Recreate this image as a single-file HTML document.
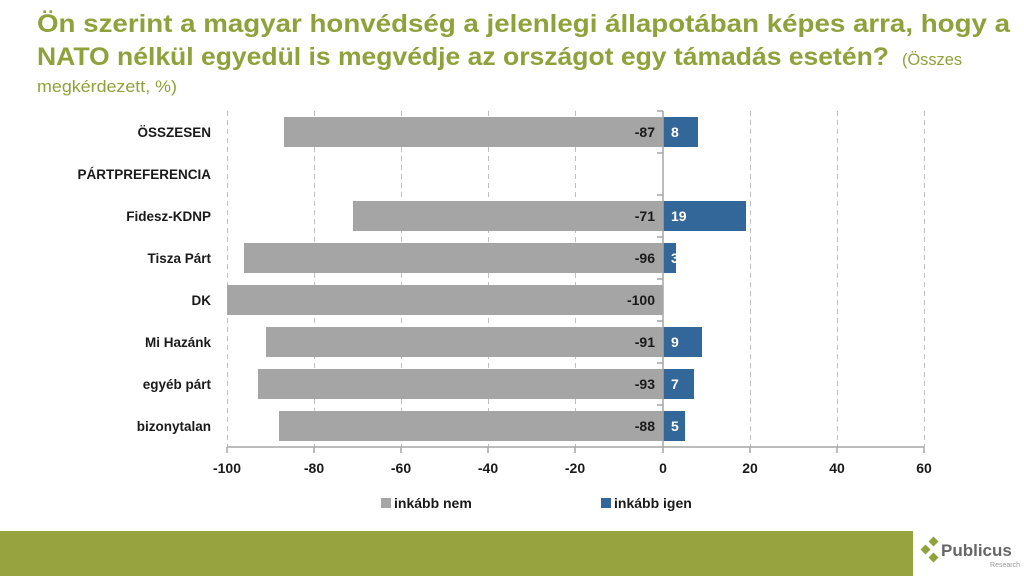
<!DOCTYPE html>
<html><head><meta charset="utf-8"><style>
html,body{margin:0;padding:0;background:#fff;width:1024px;height:576px;overflow:hidden}
svg{display:block;font-family:"Liberation Sans",Arial,sans-serif}
</style></head><body>
<svg width="1024" height="576" viewBox="0 0 1024 576">
<g font-weight="bold" fill="#8fa13a" font-size="25">
<text x="37" y="32" textLength="973" lengthAdjust="spacingAndGlyphs">Ön szerint a magyar honvédség a jelenlegi állapotában képes arra, hogy a</text>
<text x="37" y="65" textLength="852" lengthAdjust="spacingAndGlyphs">NATO nélkül egyedül is megvédje az országot egy támadás esetén?</text>
</g>
<text x="902" y="65" fill="#8fa13a" font-size="17" textLength="60" lengthAdjust="spacingAndGlyphs">(Összes</text>
<text x="37" y="92" fill="#8fa13a" font-size="17" textLength="140" lengthAdjust="spacingAndGlyphs">megkérdezett, %)</text>

<g stroke="#bfbfbf" stroke-dasharray="5,4" stroke-width="1">
<line x1="227.5" y1="111" x2="227.5" y2="447"/>
<line x1="314.5" y1="111" x2="314.5" y2="447"/>
<line x1="401.5" y1="111" x2="401.5" y2="447"/>
<line x1="488.5" y1="111" x2="488.5" y2="447"/>
<line x1="575.5" y1="111" x2="575.5" y2="447"/>
<line x1="750.5" y1="111" x2="750.5" y2="447"/>
<line x1="837.5" y1="111" x2="837.5" y2="447"/>
<line x1="924.5" y1="111" x2="924.5" y2="447"/>
</g>

<g fill="#a5a5a5">
<rect x="284" y="117" width="379" height="30"/>
<rect x="353" y="201" width="310" height="30"/>
<rect x="244" y="243" width="419" height="30"/>
<rect x="227" y="285" width="436" height="30"/>
<rect x="266" y="327" width="397" height="30"/>
<rect x="258" y="369" width="405" height="30"/>
<rect x="279" y="411" width="384" height="30"/>
</g>
<g fill="#336699">
<rect x="663" y="117" width="35" height="30"/>
<rect x="663" y="201" width="83" height="30"/>
<rect x="663" y="243" width="13" height="30"/>
<rect x="663" y="327" width="39" height="30"/>
<rect x="663" y="369" width="31" height="30"/>
<rect x="663" y="411" width="22" height="30"/>
</g>

<g stroke="#a6a6a6" stroke-width="1.5" fill="none">
<line x1="663" y1="111" x2="663" y2="447"/>
<line x1="227" y1="447" x2="924" y2="447"/>
<path d="M657 111H663M657 153H663M657 195H663M657 237H663M657 279H663M657 321H663M657 363H663M657 405H663"/>
<path d="M227 447V453M314 447V453M401 447V453M488 447V453M575 447V453M663 447V453M750 447V453M837 447V453M924 447V453"/>
</g>

<g font-weight="bold" font-size="14" fill="#1a1a1a" text-anchor="end">
<text x="655" y="137">-87</text>
<text x="655" y="221">-71</text>
<text x="655" y="263">-96</text>
<text x="655" y="305">-100</text>
<text x="655" y="347">-91</text>
<text x="655" y="389">-93</text>
<text x="655" y="431">-88</text>
</g>
<g font-weight="bold" font-size="14" fill="#fff">
<text x="671" y="137">8</text>
<text x="671" y="221">19</text>
<text x="671" y="263">3</text>
<text x="671" y="347">9</text>
<text x="671" y="389">7</text>
<text x="671" y="431">5</text>
</g>

<g font-weight="bold" font-size="13.5" fill="#1a1a1a" text-anchor="end">
<text x="211" y="137">ÖSSZESEN</text>
<text x="211" y="179">PÁRTPREFERENCIA</text>
<text x="211" y="221">Fidesz-KDNP</text>
<text x="211" y="263">Tisza Párt</text>
<text x="211" y="305">DK</text>
<text x="211" y="347">Mi Hazánk</text>
<text x="211" y="389">egyéb párt</text>
<text x="211" y="431">bizonytalan</text>
</g>

<g font-weight="bold" font-size="14" fill="#1a1a1a" text-anchor="middle">
<text x="227" y="473">-100</text>
<text x="314" y="473">-80</text>
<text x="401" y="473">-60</text>
<text x="488" y="473">-40</text>
<text x="575" y="473">-20</text>
<text x="663" y="473">0</text>
<text x="750" y="473">20</text>
<text x="837" y="473">40</text>
<text x="924" y="473">60</text>
</g>

<rect x="381" y="498" width="10" height="10" fill="#a5a5a5"/>
<text x="394" y="508" font-weight="bold" font-size="14" fill="#1a1a1a">inkább nem</text>
<rect x="601" y="498" width="10" height="10" fill="#336699"/>
<text x="614" y="508" font-weight="bold" font-size="14" fill="#1a1a1a">inkább igen</text>

<rect x="0" y="531" width="913" height="45" fill="#96a33f"/>
<g fill="#8fa13a">
<rect x="930" y="538" width="7" height="7" transform="rotate(45 933.5 541.5)"/>
<rect x="922" y="546" width="7" height="7" transform="rotate(45 925.5 549.5)"/>
<rect x="930" y="554" width="7" height="7" transform="rotate(45 933.5 557.5)"/>
</g>
<text x="941" y="556" font-weight="bold" font-size="17" fill="#666">Publicus</text>
<text x="1020" y="567" font-size="7" fill="#999" text-anchor="end">Research</text>
</svg>
</body></html>
